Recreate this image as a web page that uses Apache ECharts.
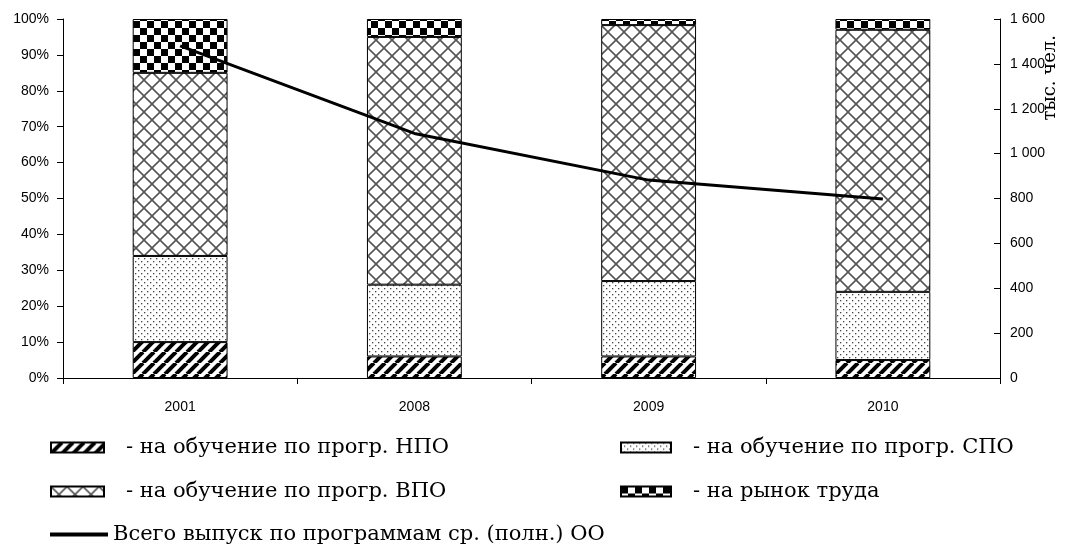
<!DOCTYPE html>
<html><head><meta charset="utf-8">
<script src="https://cdn.jsdelivr.net/npm/echarts@6/dist/echarts.min.js"></script>
<style>html,body{margin:0;padding:0;background:#fff}#c{width:1080px;height:544px}</style>
</head><body><div id="c"></div>
<script>
const categories = ['2001', '2008', '2009', '2010'];
const npo = [10, 6, 6, 5];
const spo = [24, 20, 21, 19];
const vpo = [51, 69, 71.3, 73];
const labour = [15, 5, 1.7, 3];
const total = [1480, 1090, 882, 798];
const leftTicks = [0, 10, 20, 30, 40, 50, 60, 70, 80, 90, 100];
const rightTicks = [0, 200, 400, 600, 800, 1000, 1200, 1400, 1600];
const names = ['на обучение по прогр. НПО', 'на обучение по прогр. СПО', 'на обучение по прогр. ВПО', 'на рынок труда', 'Всего выпуск по программам ср. (полн.) ОО'];
const unitName = 'тыс. чел.';

function tile(w, h, draw) {
  const c = document.createElement('canvas');
  c.width = w; c.height = h;
  const g = c.getContext('2d');
  g.fillStyle = '#fff'; g.fillRect(0, 0, w, h);
  draw(g, w, h);
  return { image: c, repeat: 'repeat' };
}
const pStripes = tile(11, 11, (g, w, h) => {
  g.strokeStyle = '#000'; g.lineWidth = 4;
  for (const o of [-11, 0, 11]) { g.beginPath(); g.moveTo(o, h); g.lineTo(o + w, 0); g.stroke(); }
});
const pDots = tile(6, 6, (g) => {
  g.fillStyle = '#444';
  g.fillRect(0, 0, 1.3, 1.3); g.fillRect(3, 3, 1.3, 1.3);
});
const pCross = tile(16, 16, (g, w, h) => {
  g.strokeStyle = '#555'; g.lineWidth = 1.6;
  g.beginPath(); g.moveTo(0, 0); g.lineTo(w, h); g.stroke();
  g.beginPath(); g.moveTo(0, h); g.lineTo(w, 0); g.stroke();
});
const pCheck = tile(14, 14, (g) => {
  g.fillStyle = '#000';
  g.fillRect(0, 0, 7, 7); g.fillRect(7, 7, 7, 7);
});

const axisFont = '"Liberation Sans", Arial, sans-serif';
const serif = '"DejaVu Serif", "Liberation Serif", serif';

function barSeries(name, data, pat) {
  return {
    name, type: 'bar', stack: 'p', data, barWidth: '40.5%',
    itemStyle: { color: pat, borderColor: '#000', borderWidth: 1 },
    emphasis: { disabled: true }
  };
}
const legendText = { fontFamily: serif, fontSize: 21, lineHeight: 21, color: '#000', padding: [0, 0, 0, 17] };
const chart = echarts.init(document.getElementById('c'), null, { renderer: 'canvas' });
chart.setOption({
  animation: false,
  backgroundColor: '#fff',
  grid: { left: 63, right: 80, top: 19, bottom: 166, containLabel: false },
  xAxis: {
    type: 'category', data: categories,
    axisLine: { lineStyle: { color: '#000', width: 1 } },
    axisTick: { show: true, length: 6, lineStyle: { color: '#000' } },
    axisLabel: { fontFamily: axisFont, fontSize: 14, color: '#000', margin: 22 }
  },
  yAxis: [{
    type: 'value', min: 0, max: 100, interval: 10,
    axisLine: { show: true, lineStyle: { color: '#000' } },
    axisTick: { show: true, length: 6, lineStyle: { color: '#000' } },
    splitLine: { show: false },
    axisLabel: { fontFamily: axisFont, fontSize: 14, color: '#000', margin: 14, formatter: '{value}%' }
  }, {
    type: 'value', min: 0, max: 1600, interval: 200, position: 'right',
    axisLine: { show: true, lineStyle: { color: '#000' } },
    axisTick: { show: true, inside: true, length: 6, lineStyle: { color: '#000' } },
    splitLine: { show: false },
    axisLabel: {
      fontFamily: axisFont, fontSize: 14, color: '#000', margin: 10,
      formatter: v => String(v).replace(/\B(?=(\d{3})+(?!\d))/g, ' ')
    }
  }],
  legend: [{
    left: 45, top: 432, orient: 'vertical', itemGap: 23, itemWidth: 53, itemHeight: 10, icon: 'rect',
    data: [names[0], names[2]], formatter: '- {name}', textStyle: legendText, selectedMode: false
  }, {
    left: 615, top: 432, orient: 'vertical', itemGap: 23, itemWidth: 50, itemHeight: 10, icon: 'rect',
    data: [names[1], names[3]], formatter: '- {name}', textStyle: legendText, selectedMode: false
  }, {
    left: 45, top: 519, itemWidth: 58, itemHeight: 4,
    data: [{ name: names[4], icon: 'rect' }],
    textStyle: { fontFamily: serif, fontSize: 21, lineHeight: 21, color: '#000' }, selectedMode: false,
    itemStyle: { color: '#000' }
  }],
  graphic: [{
    type: 'text', left: 1041, top: 35, rotation: Math.PI / 2,
    style: { text: unitName, font: '18px ' + serif, fill: '#000' }
  }],
  series: [
    barSeries(names[0], npo, pStripes),
    barSeries(names[1], spo, pDots),
    barSeries(names[2], vpo, pCross),
    barSeries(names[3], labour, pCheck),
    {
      name: names[4], type: 'line', yAxisIndex: 1, data: total,
      symbol: 'none', lineStyle: { color: '#000', width: 3 }, itemStyle: { color: '#000' },
      z: 5, emphasis: { disabled: true }
    }
  ]
});
</script></body></html>
